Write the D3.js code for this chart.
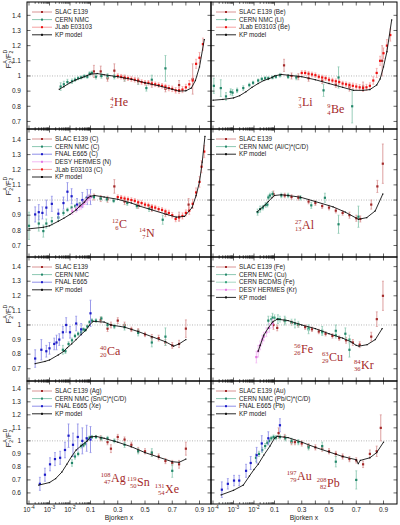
<!DOCTYPE html>
<html>
<head>
<meta charset="utf-8">
<script src="https://cdn.jsdelivr.net/npm/d3@7"></script>
<style>
body { margin: 0; background: white; }
text { font-family: "Liberation Sans", Arial, sans-serif; }
text.nuc { font-family: "Liberation Serif", "DejaVu Serif", serif; }
</style>
</head>
<body>
<script>
// ---- data: [x, F2A/F2D, error] ----
const kpHe = [[0.003,0.912],[0.005,0.93],[0.01,0.955],[0.02,0.975],[0.04,0.99],[0.07,1.003],[0.1,1.012],[0.15,1.016],[0.2,1.008],[0.3,0.995],[0.4,0.978],[0.5,0.955],[0.6,0.935],[0.7,0.912],[0.75,0.9],[0.8,0.902],[0.84,0.92],[0.87,0.97],[0.9,1.06],[0.935,1.24]];
const nmcHe = [[0.0035,0.93,0.025],[0.005,0.945,0.02],[0.0075,0.96,0.018],[0.0125,0.965,0.015],[0.0175,0.975,0.012],[0.025,0.985,0.01],[0.035,0.99,0.01],[0.05,0.998,0.01],[0.07,0.995,0.01],[0.09,1.015,0.012],[0.11,1.02,0.012],[0.14,0.995,0.015],[0.18,1.0,0.015],[0.225,1.0,0.015],[0.275,0.995,0.015],[0.35,0.985,0.018],[0.45,0.965,0.02],[0.51,0.92,0.02],[0.55,0.975,0.03],[0.65,1.05,0.085]];
const slacHe = [[0.125,1.03,0.04],[0.175,1.03,0.035],[0.225,0.985,0.02],[0.275,1.035,0.045],[0.35,0.985,0.02],[0.45,0.965,0.02],[0.55,0.945,0.02],[0.65,0.915,0.02],[0.75,0.94,0.03],[0.85,0.98,0.1]];
const jlabHe = [[0.3,1.0,0.015],[0.325,0.995,0.015],[0.35,0.99,0.015],[0.375,0.985,0.015],[0.4,0.98,0.015],[0.425,0.975,0.015],[0.45,0.97,0.015],[0.475,0.96,0.015],[0.5,0.955,0.015],[0.525,0.955,0.015],[0.55,0.95,0.015],[0.575,0.945,0.015],[0.6,0.94,0.015],[0.625,0.935,0.015],[0.65,0.93,0.015],[0.675,0.92,0.018],[0.7,0.915,0.018],[0.725,0.905,0.018],[0.75,0.905,0.02],[0.775,0.91,0.02],[0.8,0.925,0.02],[0.825,0.945,0.025],[0.85,0.97,0.03],[0.875,1.08,0.03],[0.9,1.12,0.035],[0.925,1.21,0.04]];

const kpBe = [[0.0001,0.84],[0.0003,0.845],[0.001,0.855],[0.002,0.87],[0.004,0.895],[0.008,0.925],[0.016,0.95],[0.03,0.97],[0.05,0.98],[0.075,0.99],[0.1,1.0],[0.15,1.01],[0.2,1.005],[0.3,0.995],[0.4,0.975],[0.5,0.95],[0.6,0.925],[0.68,0.905],[0.75,0.905],[0.8,0.91],[0.85,0.94],[0.875,0.98],[0.9,1.06],[0.925,1.16],[0.96,1.37]];
const nmcLi = [[0.00011,0.935,0.05],[0.00024,0.92,0.055],[0.00043,0.865,0.025],[0.00073,0.895,0.02],[0.0009,0.89,0.02],[0.0015,0.905,0.015],[0.003,0.92,0.015],[0.0059,0.94,0.012],[0.009,0.955,0.01],[0.016,0.97,0.01],[0.024,0.98,0.01],[0.035,0.985,0.01],[0.05,0.985,0.01],[0.08,0.99,0.01],[0.11,0.995,0.01],[0.14,1.005,0.012],[0.2,0.995,0.012],[0.26,0.99,0.015],[0.46,0.905,0.04],[0.57,0.99,0.07],[0.67,0.8,0.11]];
const slacBe = [[0.17,1.07,0.04],[0.225,1.0,0.02],[0.275,0.995,0.02],[0.35,0.985,0.02],[0.45,0.97,0.02],[0.55,0.945,0.02],[0.65,0.925,0.025],[0.75,0.93,0.03],[0.89,1.1,0.1]];
const jlabBe = [[0.3,1.02,0.015],[0.325,1.02,0.015],[0.35,1.015,0.015],[0.375,1.01,0.015],[0.4,1.005,0.015],[0.425,0.995,0.015],[0.45,0.99,0.015],[0.475,0.985,0.015],[0.5,0.975,0.015],[0.525,0.97,0.015],[0.55,0.965,0.015],[0.575,0.96,0.015],[0.6,0.95,0.015],[0.625,0.945,0.015],[0.65,0.94,0.015],[0.675,0.935,0.018],[0.7,0.93,0.018],[0.725,0.925,0.018],[0.75,0.92,0.02],[0.775,0.925,0.02],[0.8,0.935,0.02],[0.825,0.97,0.025],[0.85,1.02,0.03],[0.875,1.1,0.03],[0.9,1.15,0.035],[0.925,1.2,0.04],[0.95,1.27,0.04]];

const kpC = [[0.0001,0.81],[0.0005,0.82],[0.001,0.83],[0.0027,0.86],[0.005,0.88],[0.01,0.905],[0.02,0.935],[0.03,0.96],[0.05,0.985],[0.075,1.015],[0.1,1.025],[0.13,1.03],[0.2,1.02],[0.3,1.005],[0.4,0.98],[0.46,0.96],[0.55,0.935],[0.66,0.905],[0.73,0.887],[0.79,0.892],[0.845,0.95],[0.875,1.03],[0.9,1.12],[0.92,1.25],[0.94,1.42]];
const nmcC = [[0.0001,0.83,0.09],[0.0003,0.845,0.05],[0.0005,0.795,0.04],[0.0007,0.845,0.03],[0.0013,0.86,0.025],[0.0027,0.885,0.02],[0.0048,0.915,0.015],[0.0075,0.935,0.012],[0.012,0.95,0.01],[0.018,0.96,0.01],[0.03,0.975,0.01],[0.044,0.99,0.01],[0.062,1.01,0.01],[0.09,1.025,0.01],[0.125,1.02,0.01],[0.175,1.01,0.01],[0.22,1.005,0.012],[0.27,0.995,0.012],[0.37,0.98,0.015],[0.44,0.96,0.015],[0.53,0.945,0.02],[0.63,0.87,0.03]];
const fnalC = [[0.0002,0.905,0.05],[0.0003,0.92,0.05],[0.00045,0.915,0.04],[0.0007,0.95,0.05],[0.0013,0.975,0.05],[0.0027,0.91,0.03],[0.0048,0.98,0.04],[0.0075,1.055,0.06],[0.012,1.025,0.05],[0.022,0.97,0.04],[0.04,1.0,0.05],[0.07,1.02,0.05],[0.1,1.02,0.05]];
const hermesN = [[0.013,0.925,0.02],[0.02,0.94,0.02],[0.028,0.955,0.02],[0.035,0.96,0.02],[0.045,0.975,0.02],[0.055,0.99,0.02],[0.07,1.005,0.02],[0.085,1.015,0.02],[0.1,1.02,0.02]];
const slacC = [[0.125,1.02,0.02],[0.175,1.01,0.02],[0.225,1.005,0.02],[0.275,1.09,0.045],[0.35,0.99,0.02],[0.45,0.965,0.02],[0.55,0.945,0.02],[0.65,0.91,0.02],[0.75,0.89,0.03],[0.82,0.97,0.04]];
const jlabC = [[0.3,1.02,0.015],[0.325,1.015,0.015],[0.35,1.01,0.015],[0.375,1.005,0.015],[0.4,1.0,0.015],[0.425,0.995,0.015],[0.45,0.985,0.015],[0.475,0.98,0.015],[0.5,0.97,0.015],[0.525,0.965,0.015],[0.55,0.955,0.015],[0.575,0.95,0.015],[0.6,0.94,0.015],[0.625,0.935,0.015],[0.65,0.925,0.015],[0.675,0.915,0.018],[0.7,0.9,0.018],[0.725,0.875,0.018],[0.75,0.885,0.02],[0.775,0.895,0.02],[0.8,0.915,0.02],[0.825,0.93,0.025],[0.85,0.975,0.03],[0.875,1.05,0.03],[0.9,1.12,0.035],[0.915,1.22,0.04],[0.935,1.32,0.04]];

const kpAl = [[0.0145,0.923],[0.02,0.94],[0.03,0.96],[0.05,0.99],[0.075,1.015],[0.1,1.03],[0.15,1.035],[0.2,1.03],[0.29,1.019],[0.4,0.99],[0.53,0.955],[0.62,0.92],[0.716,0.873],[0.777,0.884],[0.839,0.928],[0.895,1.04]];
const nmcAl = [[0.015,0.92,0.02],[0.02,0.94,0.02],[0.027,0.95,0.015],[0.037,0.968,0.015],[0.045,0.97,0.015],[0.05,1.017,0.015],[0.06,1.03,0.015],[0.08,1.04,0.015],[0.15,1.03,0.015],[0.2,1.03,0.015],[0.29,1.015,0.015],[0.37,0.965,0.02],[0.47,1.015,0.03],[0.57,0.84,0.06],[0.716,0.89,0.07]];
const slacAl = [[0.089,1.04,0.02],[0.175,1.03,0.015],[0.225,1.02,0.015],[0.275,1.015,0.015],[0.35,0.99,0.015],[0.4,0.98,0.015],[0.45,0.96,0.015],[0.5,0.95,0.015],[0.55,0.93,0.015],[0.6,0.915,0.015],[0.65,0.9,0.02],[0.7,0.88,0.02],[0.73,0.875,0.02],[0.81,0.97,0.03],[0.855,1.09,0.04],[0.895,1.24,0.13]];

const kpCa = [[0.0002,0.735],[0.0006,0.75],[0.001,0.76],[0.0027,0.795],[0.005,0.82],[0.0075,0.845],[0.012,0.87],[0.02,0.9],[0.035,0.935],[0.06,0.965],[0.09,1.0],[0.12,1.025],[0.2,1.02],[0.25,1.0],[0.35,0.985],[0.45,0.955],[0.55,0.92],[0.65,0.885],[0.71,0.855],[0.75,0.87],[0.8,0.9]];
const nmcCa = [[0.0045,0.83,0.03],[0.006,0.82,0.015],[0.0085,0.87,0.015],[0.0125,0.895,0.015],[0.0175,0.925,0.012],[0.025,0.94,0.012],[0.035,0.95,0.012],[0.045,0.97,0.01],[0.055,0.965,0.01],[0.07,0.99,0.01],[0.09,1.02,0.01],[0.11,1.03,0.012],[0.14,1.03,0.012],[0.18,1.045,0.012],[0.225,1.0,0.015],[0.275,0.99,0.015],[0.35,0.985,0.02],[0.45,0.945,0.02],[0.55,0.88,0.03],[0.65,0.92,0.06]];
const fnalCa = [[0.0002,0.77,0.06],[0.0004,0.83,0.07],[0.0007,0.82,0.04],[0.001,0.84,0.04],[0.0017,0.87,0.04],[0.0022,0.88,0.05],[0.003,0.9,0.04],[0.0045,0.95,0.04],[0.0065,1.0,0.05],[0.01,0.95,0.04],[0.02,1.01,0.05],[0.035,0.97,0.04],[0.1,1.08,0.09]];
const slacCa = [[0.175,1.035,0.02],[0.225,0.975,0.02],[0.25,1.0,0.02],[0.3,1.03,0.02],[0.35,1.0,0.02],[0.4,0.97,0.015],[0.45,0.96,0.015],[0.5,0.935,0.015],[0.55,0.915,0.02],[0.6,0.91,0.02],[0.65,0.88,0.02],[0.7,0.86,0.02],[0.75,0.87,0.025],[0.8,0.975,0.06]];

const kpFe = [[0.016,0.82],[0.02,0.86],[0.03,0.93],[0.05,0.98],[0.08,1.02],[0.12,1.04],[0.2,1.03],[0.3,1.0],[0.4,0.975],[0.5,0.94],[0.6,0.91],[0.66,0.885],[0.7,0.86],[0.72,0.855],[0.78,0.865],[0.84,0.9],[0.89,0.975]];
const slacFe = [[0.089,1.0,0.03],[0.12,0.98,0.02],[0.175,1.03,0.015],[0.225,1.015,0.015],[0.275,1.0,0.015],[0.325,0.985,0.015],[0.375,0.97,0.015],[0.425,0.955,0.015],[0.475,0.94,0.015],[0.525,0.925,0.015],[0.575,0.91,0.015],[0.625,0.895,0.02],[0.675,0.88,0.02],[0.725,0.865,0.02],[0.81,0.92,0.03],[0.851,1.04,0.05],[0.896,1.2,0.1]];
const emcCu = [[0.05,1.03,0.03],[0.08,1.05,0.03],[0.125,1.04,0.03],[0.175,1.03,0.03],[0.25,1.01,0.03],[0.35,0.97,0.03],[0.45,0.96,0.03],[0.55,0.96,0.04],[0.62,0.94,0.04],[0.65,0.83,0.05]];
const bcdmsFe = [[0.07,1.04,0.02],[0.1,1.05,0.02],[0.14,1.04,0.02],[0.18,1.03,0.02],[0.225,1.02,0.02],[0.275,1.005,0.02],[0.35,0.98,0.02],[0.45,0.95,0.02],[0.55,0.93,0.02],[0.65,0.9,0.03]];
const hermesKr = [[0.013,0.78,0.04],[0.016,0.82,0.04],[0.02,0.86,0.03],[0.025,0.9,0.03],[0.03,0.92,0.03],[0.04,0.95,0.03],[0.055,0.98,0.03],[0.08,1.01,0.03]];

const kpAg = [[0.0003,0.66],[0.001,0.68],[0.002,0.71],[0.004,0.76],[0.007,0.82],[0.012,0.88],[0.02,0.93],[0.04,0.97],[0.07,1.0],[0.1,1.03],[0.14,1.035],[0.2,1.02],[0.3,0.99],[0.4,0.955],[0.5,0.91],[0.6,0.875],[0.7,0.84],[0.75,0.835],[0.8,0.86]];
const nmcSn = [[0.0125,0.83,0.025],[0.0175,0.88,0.02],[0.025,0.9,0.015],[0.035,0.96,0.015],[0.045,0.965,0.012],[0.055,0.98,0.012],[0.07,1.01,0.012],[0.09,1.025,0.012],[0.11,1.03,0.012],[0.14,1.03,0.012],[0.18,1.02,0.015],[0.225,1.02,0.015],[0.275,1.0,0.015],[0.35,0.97,0.02],[0.45,0.92,0.02],[0.55,0.91,0.03],[0.7,0.77,0.05]];
const fnalXe = [[0.00034,0.67,0.05],[0.0006,0.74,0.05],[0.00106,0.82,0.05],[0.00185,0.86,0.05],[0.0033,0.87,0.05],[0.0057,0.93,0.06],[0.0085,1.04,0.09],[0.014,0.97,0.09],[0.024,1.03,0.1],[0.04,1.0,0.1],[0.065,1.02,0.1],[0.1,1.01,0.1]];
const slacAg = [[0.175,1.02,0.02],[0.225,0.99,0.02],[0.25,0.94,0.03],[0.3,1.03,0.02],[0.35,1.01,0.02],[0.4,0.97,0.02],[0.45,0.93,0.02],[0.5,0.92,0.02],[0.55,0.9,0.02],[0.6,0.88,0.02],[0.65,0.845,0.02],[0.7,0.83,0.02],[0.75,0.82,0.03],[0.8,0.94,0.05]];

const kpAu = [[0.00025,0.585],[0.001,0.62],[0.003,0.66],[0.006,0.73],[0.01,0.78],[0.016,0.82],[0.03,0.89],[0.06,0.96],[0.1,1.02],[0.12,1.035],[0.2,1.025],[0.3,0.99],[0.4,0.95],[0.5,0.915],[0.6,0.88],[0.7,0.855],[0.715,0.825],[0.73,0.85],[0.8,0.87],[0.85,0.91],[0.9,0.99]];
const nmcPb = [[0.0125,0.87,0.03],[0.0175,0.9,0.02],[0.025,0.93,0.02],[0.035,0.96,0.02],[0.045,0.985,0.015],[0.055,1.0,0.015],[0.07,1.02,0.015],[0.09,1.03,0.015],[0.11,1.025,0.015],[0.14,1.03,0.015],[0.18,1.02,0.02],[0.225,1.0,0.02],[0.275,0.99,0.02],[0.35,0.95,0.02],[0.45,0.96,0.03],[0.55,0.84,0.04],[0.7,0.7,0.07]];
const fnalPb = [[0.00027,0.625,0.06],[0.00053,0.67,0.04],[0.00106,0.695,0.04],[0.0019,0.695,0.04],[0.0041,0.77,0.05],[0.0069,0.83,0.05],[0.0135,0.89,0.06],[0.024,0.98,0.06],[0.05,1.02,0.05],[0.14,1.12,0.05]];
const slacAu = [[0.13,1.06,0.04],[0.175,1.03,0.02],[0.225,0.99,0.02],[0.25,0.99,0.02],[0.3,0.98,0.02],[0.35,0.96,0.02],[0.4,0.95,0.02],[0.45,0.94,0.02],[0.5,0.92,0.02],[0.55,0.9,0.02],[0.6,0.88,0.02],[0.65,0.86,0.02],[0.7,0.85,0.02],[0.75,0.82,0.025],[0.8,0.9,0.03],[0.85,0.92,0.04],[0.88,1.1,0.1]];

const xMajor = [1e-4, 1e-3, 1e-2, 0.1, 0.2, 0.3, 0.4, 0.5, 0.6, 0.7, 0.8, 0.9];
const xLabelled = [[1e-4,"-4"],[1e-3,"-3"],[1e-2,"-2"],[0.1,"0.1"],[0.3,"0.3"],[0.5,"0.5"],[0.7,"0.7"],[0.9,"0.9"]];
const yTicks = [0.7, 0.8, 0.9, 1.0, 1.1, 1.2, 1.3, 1.4];
const yTicksLast = [0.6, 0.7, 0.8, 0.9, 1.0, 1.1, 1.2, 1.3, 1.4];

// ---- layout ----
const cols = [{x0: 27, x1: 211}, {x0: 211, x1: 397}];
const rows = [
  {top: 2, bottom: 129, dom: [0.650, 1.488], ticks: yTicks},
  {top: 129, bottom: 257, dom: [0.624, 1.469], ticks: yTicks},
  {top: 257, bottom: 381, dom: [0.616, 1.466], ticks: yTicks},
  {top: 381, bottom: 504, dom: [0.515, 1.46], ticks: yTicksLast}
];

const style = {
  slac:   {c: "#a32a2a", bar: "#d99494"},
  nmc:    {c: "#23876a", bar: "#8cc8b2"},
  bcdms:  {c: "#3aa57e", bar: "#a5d8c4"},
  fnal:   {c: "#1c1cc8", bar: "#8e8ee8"},
  hermes: {c: "#e27ae2", bar: "#f2b8f2"},
  jlab:   {c: "#ee1111", bar: "#f5a0a0"},
  kp:     {c: "#111111"}
};

const panels = [
  {col: 0, row: 0, series: [["slac", slacHe, "SLAC E139"], ["nmc", nmcHe, "CERN NMC"], ["jlab", jlabHe, "JLab E03103"], ["kp", kpHe, "KP model"]],
   nuclei: [["4", "2", "He", 87, 104]]},
  {col: 1, row: 0, series: [["slac", slacBe, "SLAC E139 (Be)"], ["nmc", nmcLi, "CERN NMC (Li)"], ["jlab", jlabBe, "JLab E03103 (Be)"], ["kp", kpBe, "KP model"]],
   nuclei: [["7", "3", "Li", 91, 104], ["9", "4", "Be", 120, 111]]},
  {col: 0, row: 1, series: [["slac", slacC, "SLAC E139 (C)"], ["nmc", nmcC, "CERN NMC (C)"], ["fnal", fnalC, "FNAL E665 (C)"], ["hermes", hermesN, "DESY HERMES (N)"], ["jlab", jlabC, "JLab E03103 (C)"], ["kp", kpC, "KP model"]],
   nuclei: [["12", "6", "C", 92, 99], ["14", "7", "N", 119, 108]]},
  {col: 1, row: 1, series: [["slac", slacAl, "SLAC E139"], ["nmc", nmcAl, "CERN NMC (Al/C)*(C/D)"], ["kp", kpAl, "KP model"]],
   nuclei: [["27", "13", "Al", 91, 100]]},
  {col: 0, row: 2, series: [["slac", slacCa, "SLAC E139"], ["nmc", nmcCa, "CERN NMC"], ["fnal", fnalCa, "FNAL E665"], ["kp", kpCa, "KP model"]],
   nuclei: [["40", "20", "Ca", 80, 98]]},
  {col: 1, row: 2, series: [["slac", slacFe, "SLAC E139 (Fe)"], ["nmc", emcCu, "CERN EMC (Cu)"], ["bcdms", bcdmsFe, "CERN BCDMS (Fe)"], ["hermes", hermesKr, "DESY HERMES (Kr)"], ["kp", kpFe, "KP model"]],
   nuclei: [["56", "26", "Fe", 90, 96], ["63", "29", "Cu", 118, 104], ["84", "36", "Kr", 150, 112]]},
  {col: 0, row: 3, series: [["slac", slacAg, "SLAC E139 (Ag)"], ["nmc", nmcSn, "CERN NMC (Sn/C)*(C/D)"], ["fnal", fnalXe, "FNAL E665 (Xe)"], ["kp", kpAg, "KP model"]],
   nuclei: [["108", "47", "Ag", 84, 101], ["119", "50", "Sn", 110, 105], ["131", "54", "Xe", 138, 112]]},
  {col: 1, row: 3, series: [["slac", slacAu, "SLAC E139 (Au)"], ["nmc", nmcPb, "CERN NMC (Pb/C)*(C/D)"], ["fnal", fnalPb, "FNAL E665 (Pb)"], ["kp", kpAu, "KP model"]],
   nuclei: [["197", "79", "Au", 86, 99], ["208", "82", "Pb", 116, 106]]}
];

const svg = d3.select("body").append("svg")
  .attr("width", 400).attr("height", 525);

// log part below x = 0.1, linear part above
function makeX(x0) {
  const lg = d3.scaleLog().domain([1e-4, 0.1]).range([x0 + 2, x0 + 63.5]);
  const ln = d3.scaleLinear().domain([0.1, 0.9]).range([x0 + 63.5, x0 + 172.5]);
  return v => v < 0.1 ? lg(v) : ln(v);
}

const minorX = [];
for (const p of [1e-4, 1e-3, 1e-2]) for (let k = 2; k <= 9; k++) minorX.push(k * p);

panels.forEach((p, i) => {
  const c = cols[p.col], r = rows[p.row];
  const x = makeX(c.x0);
  const y = d3.scaleLinear().domain(r.dom).range([r.bottom, r.top]);
  const g = svg.append("g");

  g.append("clipPath").attr("id", "clip" + i)
    .append("rect").attr("x", c.x0).attr("y", r.top).attr("width", c.x1 - c.x0).attr("height", r.bottom - r.top);

  // dotted line at unity
  g.append("line").attr("x1", c.x0).attr("x2", c.x1).attr("y1", y(1)).attr("y2", y(1))
    .attr("stroke", "#9a9a9a").attr("stroke-width", 0.7).attr("stroke-dasharray", "1,1.5");

  const plot = g.append("g").attr("clip-path", `url(#clip${i})`);

  p.series.forEach(([kind, data]) => {
    const s = style[kind];
    if (kind === "kp") {
      plot.append("path").datum(data)
        .attr("fill", "none").attr("stroke", s.c).attr("stroke-width", 0.9)
        .attr("d", d3.line().x(d => x(d[0])).y(d => y(d[1])));
      plot.selectAll(null).data(data).enter().append("rect")
        .attr("x", d => x(d[0]) - 0.6).attr("y", d => y(d[1]) - 0.6)
        .attr("width", 1.2).attr("height", 1.2).attr("fill", s.c);
      return;
    }
    const pts = plot.append("g");
    pts.selectAll(null).data(data).enter().append("line")
      .attr("x1", d => x(d[0])).attr("x2", d => x(d[0]))
      .attr("y1", d => y(d[1] - d[2])).attr("y2", d => y(d[1] + d[2]))
      .attr("stroke", s.bar).attr("stroke-width", 0.9);
    [-1, 1].forEach(sg => {
      pts.selectAll(null).data(data).enter().append("line")
        .attr("x1", d => x(d[0]) - 1).attr("x2", d => x(d[0]) + 1)
        .attr("y1", d => y(d[1] + sg * d[2])).attr("y2", d => y(d[1] + sg * d[2]))
        .attr("stroke", s.bar).attr("stroke-width", 0.7);
    });
    pts.selectAll(null).data(data).enter().append("rect")
      .attr("x", d => x(d[0]) - 1.1).attr("y", d => y(d[1]) - 1.1)
      .attr("width", 2.2).attr("height", 2.2).attr("fill", s.c);
  });

  // frame
  g.append("rect").attr("x", c.x0).attr("y", r.top).attr("width", c.x1 - c.x0).attr("height", r.bottom - r.top)
    .attr("fill", "none").attr("stroke", "#000").attr("stroke-width", 1);

  // x ticks, inward top and bottom
  const tk = g.append("g").attr("stroke", "#000").attr("stroke-width", 0.6);
  xMajor.forEach(v => {
    tk.append("line").attr("x1", x(v)).attr("x2", x(v)).attr("y1", r.bottom).attr("y2", r.bottom - 3.5);
    tk.append("line").attr("x1", x(v)).attr("x2", x(v)).attr("y1", r.top).attr("y2", r.top + 3.5);
  });
  minorX.forEach(v => {
    tk.append("line").attr("x1", x(v)).attr("x2", x(v)).attr("y1", r.bottom).attr("y2", r.bottom - 1.8);
    tk.append("line").attr("x1", x(v)).attr("x2", x(v)).attr("y1", r.top).attr("y2", r.top + 1.8);
  });
  // y ticks, inward left and right
  r.ticks.forEach(v => {
    tk.append("line").attr("x1", c.x0).attr("x2", c.x0 + 3.5).attr("y1", y(v)).attr("y2", y(v));
    tk.append("line").attr("x1", c.x1).attr("x2", c.x1 - 3.5).attr("y1", y(v)).attr("y2", y(v));
  });

  if (p.col === 0) {
    g.selectAll(null).data(r.ticks).enter().append("text")
      .attr("x", c.x0 - 6).attr("y", d => y(d)).attr("dy", "0.35em")
      .attr("text-anchor", "end").attr("font-size", 6.5).attr("fill", "#222")
      .text(d => d === 1 ? "1" : d3.format(".1f")(d));
    // axis title F2A/F2D
    const t = g.append("text")
      .attr("transform", `translate(11,${r.top + 57}) rotate(-90)`)
      .attr("text-anchor", "middle").attr("font-size", 7.5).attr("fill", "#222");
    t.append("tspan").text("F");
    t.append("tspan").attr("font-size", 5.2).attr("dy", 1.6).text("2");
    t.append("tspan").attr("font-size", 5.2).attr("dx", -2.9).attr("dy", -5.2).text("A");
    t.append("tspan").attr("dy", 3.6).text("/F");
    t.append("tspan").attr("font-size", 5.2).attr("dy", 1.6).text("2");
    t.append("tspan").attr("font-size", 5.2).attr("dx", -2.9).attr("dy", -5.2).text("D");
  }

  if (p.row === 3) {
    xLabelled.forEach(([v, lab]) => {
      const t = g.append("text").attr("x", x(v)).attr("y", r.bottom + 8)
        .attr("text-anchor", "middle").attr("font-size", 6.5).attr("fill", "#222");
      if (v < 0.1) {
        t.append("tspan").text("10");
        t.append("tspan").attr("font-size", 4.8).attr("dy", -3).text(lab);
      } else t.text(lab);
    });
    g.append("text").attr("x", (c.x0 + c.x1) / 2).attr("y", 520)
      .attr("text-anchor", "middle").attr("font-size", 6.8).attr("fill", "#222").text("Bjorken x");
  }

  // legend
  const lg = g.append("g");
  p.series.forEach(([kind, , label], k) => {
    const s = style[kind];
    const ly = r.top + 10 + k * 7.6;
    lg.append("line").attr("x1", c.x0 + 5).attr("x2", c.x0 + 25).attr("y1", ly).attr("y2", ly)
      .attr("stroke", kind === "kp" ? s.c : s.bar).attr("stroke-width", kind === "kp" ? 0.9 : 1);
    lg.append("rect").attr("x", c.x0 + 14).attr("y", ly - 1).attr("width", 2).attr("height", 2).attr("fill", s.c);
    lg.append("text").attr("x", c.x0 + 28).attr("y", ly).attr("dy", "0.35em")
      .attr("font-size", 6.3).attr("fill", "#222").text(label);
  });

  // nucleus labels: mass number over charge, then symbol
  p.nuclei.forEach(([a, z, sym, dx, dy]) => {
    const nx = c.x0 + dx, ny = r.top + dy;
    const f = g.append("g").attr("fill", "#a52a2a");
    f.append("text").attr("class", "nuc").attr("x", nx - 0.5).attr("y", ny - 5.5).attr("text-anchor", "end").attr("font-size", 6.5).text(a);
    f.append("text").attr("class", "nuc").attr("x", nx - 0.5).attr("y", ny + 2).attr("text-anchor", "end").attr("font-size", 6.5).text(z);
    f.append("text").attr("class", "nuc").attr("x", nx).attr("y", ny).attr("font-size", 12).text(sym);
  });
});
</script>
</body>
</html>
